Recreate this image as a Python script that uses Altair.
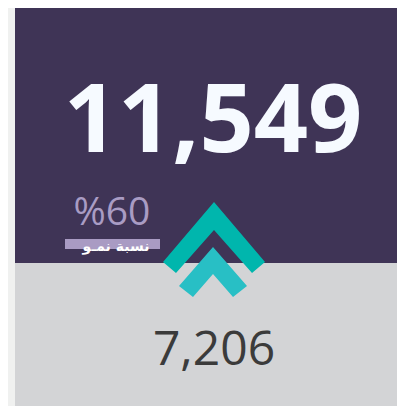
import altair as alt
import pandas as pd

# KPI values read from the card
current_value = [11549]
previous_value = [7206]
growth_pct = [60]
growth_label = ["نسبة نمـو"]

W, H = 389, 398
PURPLE = "#3f3456"
GREY = "#d3d4d6"
STRIP = "#f0f1f0"

kpi = pd.DataFrame({
    "current": current_value,
    "previous": previous_value,
    "growth": growth_pct,
    "label": growth_label,
})

base = alt.Chart(kpi)

top_panel = base.mark_rect(color=PURPLE).encode(
    x=alt.value(7), x2=alt.value(W), y=alt.value(-2), y2=alt.value(255)
)
bottom_panel = base.mark_rect(color=GREY).encode(
    x=alt.value(7), x2=alt.value(W), y=alt.value(255), y2=alt.value(H)
)

big = base.transform_calculate(
    txt="format(datum.current, ',')"
).mark_text(
    font="Open Sans", fontWeight="bold", fontSize=95, color="#f6faff",
    align="center", baseline="alphabetic"
).encode(text="txt:N", x=alt.value(205), y=alt.value(144))

pct = base.transform_calculate(
    txt="'%' + datum.growth"
).mark_text(
    font="Open Sans", fontSize=39, color="#a99cc4",
    align="center", baseline="alphabetic"
).encode(text="txt:N", x=alt.value(104), y=alt.value(217))

label_bar = base.mark_rect(color="#a99bc3").encode(
    x=alt.value(57), x2=alt.value(152), y=alt.value(231), y2=alt.value(241)
)
label_txt = base.mark_text(
    font="DejaVu Sans", fontWeight="bold", fontSize=14, color="#ffffff",
    align="center", baseline="alphabetic"
).encode(text="label:N", x=alt.value(108), y=alt.value(243))

prev = base.transform_calculate(
    txt="format(datum.previous, ',')"
).mark_text(
    font="Open Sans", fontSize=48, color="#3b3b3b",
    align="center", baseline="alphabetic"
).encode(text="txt:N", x=alt.value(206), y=alt.value(357))

chev_up = ("M0,-0.70 L1.02,0.50 L0.76,0.72 L0,-0.14 L-0.76,0.72 L-1.02,0.50 Z")
chev_low = ("M0,-0.50 L0.68,0.28 L0.40,0.50 L0,0.04 L-0.40,0.50 L-0.68,0.28 Z")

arrow1 = base.mark_point(
    shape=chev_up, filled=True, fill="#00b6ad", opacity=1, strokeWidth=0, size=10000
).encode(x=alt.value(206), y=alt.value(229))
arrow2 = base.mark_point(
    shape=chev_low, filled=True, fill="#28bfc5", opacity=1, strokeWidth=0, size=10000
).encode(x=alt.value(205), y=alt.value(264))

chart = alt.layer(
    top_panel, bottom_panel, big, pct, label_bar, label_txt, prev, arrow1, arrow2
).properties(
    width=W, height=H,
    autosize=alt.AutoSizeParams(type="none"),
    padding=0,
    background=STRIP,
).configure_view(stroke=None)

chart.save("out.html", embed_options={"renderer": "svg", "actions": False})
